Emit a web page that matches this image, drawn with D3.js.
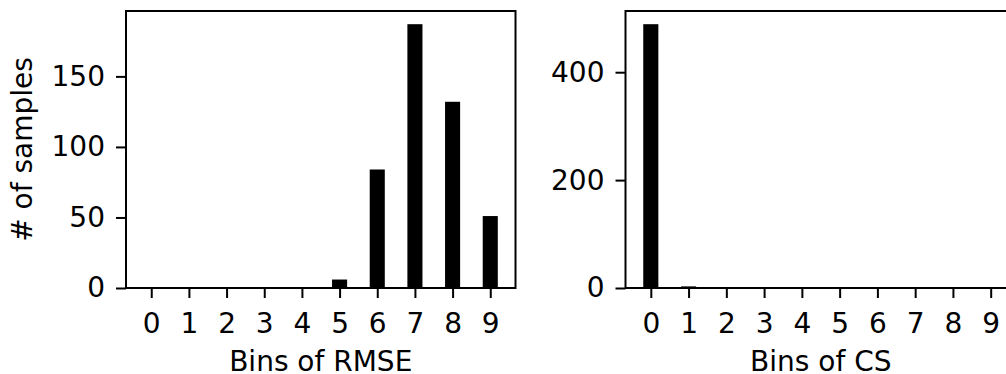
<!DOCTYPE html>
<html><head><meta charset="utf-8">
<script src="https://cdn.jsdelivr.net/npm/d3@7"></script>
<style>body{margin:0;background:#fff}svg{display:block}text{font-family:"DejaVu Sans";fill:#000}</style>
</head><body>
<svg id="c" width="1006" height="374"></svg>
<script>
const bins = [0,1,2,3,4,5,6,7,8,9];
const rmseCounts = [0,0,0,0,0,6,84,187,132,51];
const csCounts = [489,3,0,0,0,0,0,0,0,0];
const rmseTicks = [0,50,100,150];
const csTicks = [0,200,400];

const svg = d3.select("#c");
const fs = 28;

function panel(left, right, top, bottom, counts, ticks, xlabel, ylabel){
  const g = svg.append("g");
  const pad = 0.67;
  const x = d3.scaleLinear().domain([-pad, 9+pad]).range([left, right]);
  const ymax = d3.max(counts)*1.05;
  const y = d3.scaleLinear().domain([0, ymax]).range([bottom, top]);
  const bw = x(0.4)-x(0);
  g.selectAll("rect.bar").data(counts).enter().append("rect")
    .attr("x",(d,i)=>x(bins[i])-bw/2).attr("width",bw)
    .attr("y",d=>y(d)).attr("height",d=>y(0)-y(d)).attr("fill","#000");
  const xa = g.append("g").attr("transform",`translate(0,${bottom})`)
    .call(d3.axisBottom(x).tickValues(bins).tickFormat(d3.format("d")).tickSize(10).tickPadding(15));
  const ya = g.append("g").attr("transform",`translate(${left},0)`)
    .call(d3.axisLeft(y).tickValues(ticks).tickFormat(d3.format("d")).tickSize(10).tickPadding(11));
  [xa,ya].forEach(a=>{
    a.select(".domain").remove();
    a.selectAll("line").attr("stroke","#000").attr("stroke-width",2);
    a.selectAll("text").style("font-family","DejaVu Sans").style("font-size",fs+"px").attr("fill","#000");
  });
  g.append("rect").attr("x",left).attr("y",top).attr("width",right-left).attr("height",bottom-top)
    .attr("fill","none").attr("stroke","#000").attr("stroke-width",2);
  g.append("text").attr("x",(left+right)/2).attr("y",371).attr("text-anchor","middle")
    .style("font-size",fs+"px").text(xlabel);
  if(ylabel){
    g.append("text").attr("transform",`translate(32,${(top+bottom)/2}) rotate(-90)`)
      .attr("text-anchor","middle").style("font-size",fs+"px").text(ylabel);
  }
}
panel(126, 515.5, 11, 288, rmseCounts, rmseTicks, "Bins of RMSE", "# of samples");
panel(625.5, 1016, 11, 288, csCounts, csTicks, "Bins of CS", null);
</script>
</body></html>
